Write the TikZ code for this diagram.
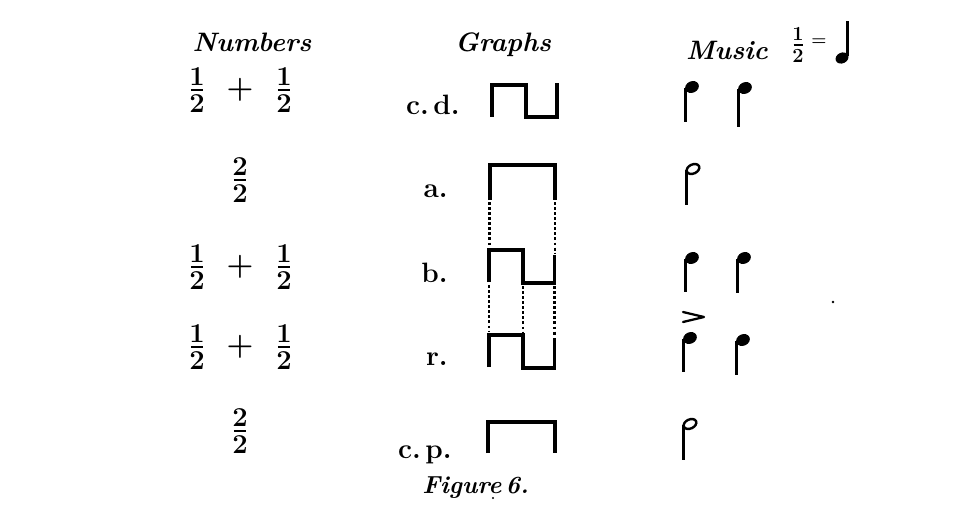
\documentclass[tikz,border=0pt]{standalone}
\newcommand\fr[2]{\vbox{\offinterlineskip\halign{\hfil##\hfil\cr#1\cr\noalign{\kern2.8pt}\rule{0.45em}{0.8pt}\cr\noalign{\kern2.8pt}#2\cr}}}
\tikzset{
  hd/.style={font=\fontsize{20}{24}\selectfont\bfseries\itshape},
  num/.style={font=\fontsize{20.5}{24}\selectfont\bfseries, inner sep=0pt},
  plus/.style={font=\fontsize{23}{26}\selectfont\bfseries, inner sep=0pt},
  lab/.style={font=\fontsize{21}{25}\selectfont\bfseries, inner sep=0pt},
  graph/.style={line width=2.3pt, line join=miter},
  guide/.style={line width=1.8pt, dash pattern=on 2.2pt off 1.6pt},
  stemline/.style={line width=2pt},
  qnote/.pic={\fill[rotate=25] (0,0) ellipse [x radius=5.3pt, y radius=4.3pt];
              \draw[stemline] (-6.5,1) -- (-6.5,#1);},
  hnote/.pic={\draw[line width=1.8pt, rotate=25] (0,0) ellipse [x radius=5pt, y radius=3.4pt];
              \draw[stemline] (-6.5,1) -- (-6.5,#1);}
}
\begin{document}
\begin{tikzpicture}[x=0.75pt, y=-0.75pt]
\useasboundingbox (0,0) rectangle (975,517);
% headings
\node[hd] (hnum) at (252,42) {Numbers};
\node[hd] (hgra) at (503,45) {Graphs};
\node[hd] (hmus) at (727,50) {Music};
\node[font=\fontsize{15}{18}\selectfont\bfseries, inner sep=0pt] (hfr) at (798,45) {\fr{1}{2}};
\node[font=\fontsize{13}{15}\selectfont\bfseries, inner sep=0pt] (heq) at (819,42) {=};
\fill[rotate around={25:(842,58)}] (842,58) ellipse [x radius=5pt, y radius=4pt];
\coordinate (qs1) at (847.5,56);
\coordinate (qs2) at (847.5,21);
\draw[stemline] (qs1) -- (qs2);
% numbers column
\node[num] (f1a) at (197,90) {\fr{1}{2}};
\node[plus] (p1) at (240,90) {+};
\node[num] (f1b) at (284,90) {\fr{1}{2}};
\node[num] (f2) at (240,180) {\fr{2}{2}};
\node[num] (f3a) at (197,267) {\fr{1}{2}};
\node[plus] (p3) at (240,267) {+};
\node[num] (f3b) at (284,267) {\fr{1}{2}};
\node[num] (f4a) at (197,347) {\fr{1}{2}};
\node[plus] (p4) at (240,347) {+};
\node[num] (f4b) at (284,347) {\fr{1}{2}};
\node[num] (f5) at (240,431) {\fr{2}{2}};
% graph labels
\node[lab, anchor=base east] (lcd) at (460,114) {c.\,d.};
\node[lab, anchor=base east] (la) at (448,197) {a.};
\node[lab, anchor=base east] (lb) at (448,282) {b.};
\node[lab, anchor=base east] (lr) at (448,365) {r.};
\node[lab, anchor=base east] (lcp) at (452,458) {c.\,p.};
% graphs
\draw[graph] (492,117) -- (492,85) -- (526,85) -- (526,117) -- (557,117) -- (557,83);
\draw[graph] (490,200) -- (490,165) -- (555,165) -- (555,200);
\draw[graph] (489,282) -- (489,250) -- (523,250) -- (523,283) -- (554.5,283) -- (554.5,255);
\draw[graph] (489,367) -- (489,335) -- (523,335) -- (523,368) -- (554.5,368) -- (554.5,338);
\draw[graph] (488,453) -- (488,422) -- (555,422) -- (555,453);
% guide lines
\draw[guide] (489.5,202) -- (489.5,247);
\draw[guide] (489,285) -- (489,332);
\draw[guide] (523,286) -- (523,332);
\draw[guide] (555,202) -- (555,254);
\draw[guide] (554.5,286) -- (554.5,336);
% music
\pic at (692,87) {qnote=35};
\pic at (745,88) {qnote=39};
\pic at (693,169) {hnote=36};
\pic at (692,258) {qnote=34};
\pic at (744,258) {qnote=35};
\draw[line width=1.7pt, line join=round, line cap=round] (683,312) -- (704,317) -- (683,322);
\pic at (690,338) {qnote=34};
\pic at (743,340) {qnote=35};
\pic at (690,424) {hnote=36};
% caption
\node[font=\fontsize{18.5}{22}\selectfont\bfseries\itshape, anchor=base west, inner sep=0pt] (cap) at (422,493) {Figure\,6.};
% specks
\fill (833,302) circle (1.1pt);
\fill (493,498) circle (0.9pt);
\end{tikzpicture}
\end{document}
